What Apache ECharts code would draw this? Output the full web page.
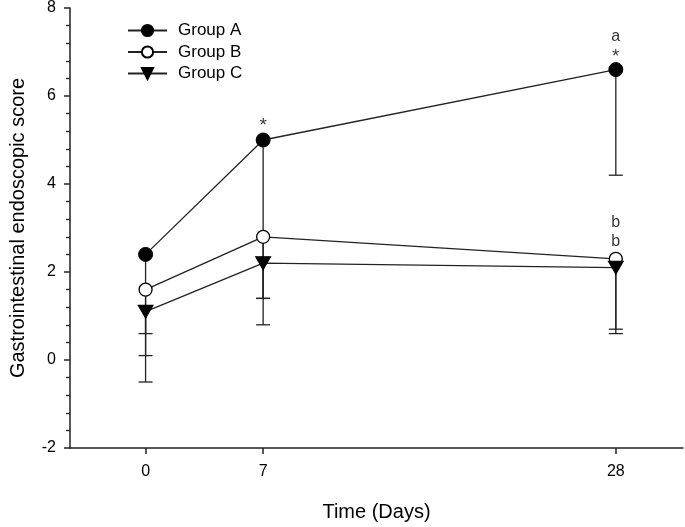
<!DOCTYPE html>
<html>
<head>
<meta charset="utf-8">
<script src="https://cdn.jsdelivr.net/npm/echarts@6/dist/echarts.min.js"></script>
<style>
html,body{margin:0;padding:0;background:#fff;}
#chart{width:685px;height:527px;}
</style>
</head>
<body>
<div id="chart"></div>
<script>
// ---- data ----
var days = [0, 7, 28];
var xTickValues = [0, 7, 28];
var groupNames = ['Group A', 'Group B', 'Group C'];
var groupA = [2.4, 5.0, 6.6];
var groupB = [1.6, 2.8, 2.3];
var groupC = [1.1, 2.2, 2.1];
var lowerA = [-0.5, 0.8, 4.2];
var lowerB = [0.1, 1.4, 0.7];
var lowerC = [0.6, 1.4, 0.6];
var annotX = [7, 28, 28, 28, 28];
var annotY = [5.33, 6.9, 7.36, 3.12, 2.69];
var annotText = ['*', '*', 'a', 'b', 'b'];

var INK = '#222';
var FONT = 'Liberation Sans, Arial, sans-serif';

function pairs(xs, ys) { return xs.map(function (x, i) { return [x, ys[i]]; }); }
function errData(means, lows) { return days.map(function (d, i) { return [d, means[i], lows[i]]; }); }

function errSeries(means, lows) {
  return {
    type: 'custom',
    data: errData(means, lows),
    z: 1,
    silent: true,
    renderItem: function (params, api) {
      var top = api.coord([api.value(0), api.value(1)]);
      var bot = api.coord([api.value(0), api.value(2)]);
      var st = { stroke: INK, lineWidth: 1.3 };
      return {
        type: 'group',
        children: [
          { type: 'line', shape: { x1: top[0], y1: top[1], x2: bot[0], y2: bot[1] }, style: st },
          { type: 'line', shape: { x1: bot[0] - 7, y1: bot[1], x2: bot[0] + 7, y2: bot[1] }, style: st }
        ]
      };
    }
  };
}

var chart = echarts.init(document.getElementById('chart'), null, { renderer: 'canvas' });
chart.setOption({
  animation: false,
  backgroundColor: '#fff',
  textStyle: { fontFamily: FONT, color: '#000' },
  grid: { left: 66, right: 2, top: 7, bottom: 77, containLabel: false },
  legend: {
    orient: 'vertical',
    left: 127,
    top: 22,
    padding: 0,
    itemWidth: 39,
    itemHeight: 14,
    itemGap: 4.5,
    data: groupNames,
    textStyle: { fontFamily: FONT, fontSize: 17, color: '#000', padding: [0, 0, 0, 6] },
    selectedMode: false
  },
  xAxis: {
    type: 'value',
    min: -4.5,
    max: 32,
    name: 'Time (Days)',
    nameLocation: 'middle',
    nameGap: 54,
    nameTextStyle: { fontFamily: FONT, fontSize: 20, color: '#000' },
    axisLine: { show: true, onZero: false, lineStyle: { color: INK, width: 1.5 } },
    axisTick: { show: true, length: 6, customValues: xTickValues, lineStyle: { color: INK, width: 1.5 } },
    axisLabel: { customValues: xTickValues, margin: 16, fontSize: 16, color: '#000', fontFamily: FONT },
    splitLine: { show: false }
  },
  yAxis: {
    type: 'value',
    min: -2,
    max: 8,
    interval: 2,
    name: 'Gastrointestinal endoscopic score',
    nameLocation: 'middle',
    nameRotate: 90,
    nameGap: 42,
    nameTextStyle: { fontFamily: FONT, fontSize: 20, color: '#000' },
    axisLine: { show: true, onZero: false, lineStyle: { color: INK, width: 1.5 } },
    axisTick: { show: true, length: 6, lineStyle: { color: INK, width: 1.5 } },
    minorTick: { show: true, splitNumber: 5, length: 4, lineStyle: { color: INK, width: 1.3 } },
    axisLabel: { margin: 14, fontSize: 16, color: '#000', fontFamily: FONT },
    splitLine: { show: false },
    minorSplitLine: { show: false }
  },
  series: [
    errSeries(groupA, lowerA),
    errSeries(groupB, lowerB),
    errSeries(groupC, lowerC),
    {
      name: 'Group A', type: 'line', data: pairs(days, groupA), z: 3,
      symbol: 'circle', symbolSize: 14,
      lineStyle: { color: INK, width: 1.3 },
      itemStyle: { color: '#000', borderColor: '#000', borderWidth: 1 }
    },
    {
      name: 'Group B', type: 'line', data: pairs(days, groupB), z: 3,
      symbol: 'circle', symbolSize: 13,
      lineStyle: { color: INK, width: 1.3 },
      itemStyle: { color: '#fff', borderColor: '#000', borderWidth: 1.3 }
    },
    {
      name: 'Group C', type: 'line', data: pairs(days, groupC), z: 3,
      symbol: 'triangle', symbolSize: [15, 13], symbolRotate: 180,
      lineStyle: { color: INK, width: 1.3 },
      itemStyle: { color: '#000', borderColor: '#000', borderWidth: 1 }
    },
    {
      type: 'scatter',
      data: pairs(annotX, annotY),
      symbolSize: 1,
      itemStyle: { color: 'rgba(0,0,0,0)' },
      silent: true,
      z: 4,
      label: {
        show: true,
        position: 'inside',
        fontFamily: FONT,
        fontSize: 16,
        color: '#000',
        rich: { star: { fontSize: 19, fontFamily: FONT, color: '#000' } },
        formatter: function (p) {
          var t = annotText[p.dataIndex];
          return t === '*' ? '{star|*}' : t;
        }
      }
    }
  ]
});
</script>
</body>
</html>
